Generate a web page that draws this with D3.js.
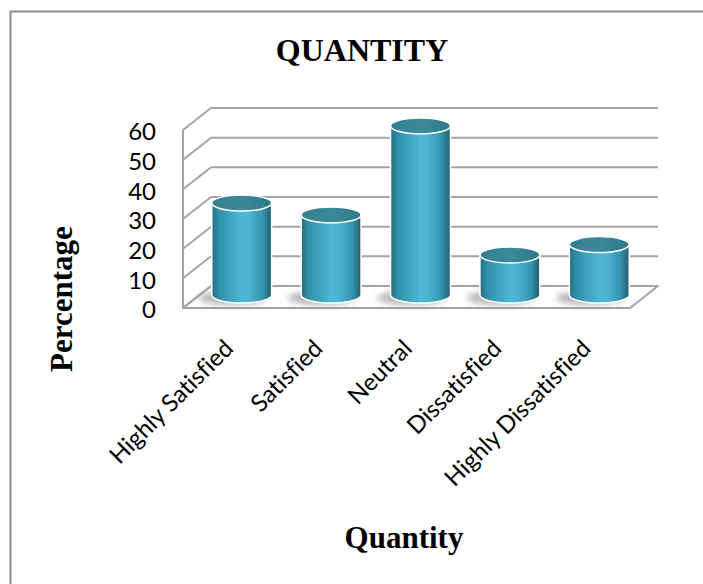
<!DOCTYPE html>
<html>
<head>
<meta charset="utf-8">
<script src="https://cdn.jsdelivr.net/npm/d3@7"></script>
<style>
html,body{margin:0;padding:0;background:#fff;}
svg{display:block;}
text{font-variant-ligatures:none;}
</style>
</head>
<body>
<svg id="chart" width="703" height="584"></svg>
<script>
const categories = ["Highly Satisfied","Satisfied","Neutral","Dissatisfied","Highly Dissatisfied"];
const values = [31, 27, 57, 13.5, 17];
const yTicks = [0,10,20,30,40,50,60];
const title = "QUANTITY";
const xTitle = "Quantity";
const yTitle = "Percentage";

const svg = d3.select("#chart");
const defs = svg.append("defs");

// frame
svg.append("rect").attr("x",10.5).attr("y",11.5).attr("width",900).attr("height",900)
  .attr("fill","none").attr("stroke","#8c8c8c").attr("stroke-width",2);

const front = {left:183, right:630, bottom:308, top:130};
const DX = 28, DY = -22;       // depth offset to back wall
const CDX = 14, CDY = -13;     // cylinder position inside depth

const x = d3.scaleBand().domain(categories).range([front.left, front.right]);
const y = d3.scaleLinear().domain([0,60]).range([front.bottom, front.top]);

const grid = svg.append("g");
const gridColor = "#a3a3a3";
const floorPts = [[front.left,y(0)],[front.right,y(0)],[front.right+DX,y(0)+DY],[front.left+DX,y(0)+DY]];
grid.append("polygon").attr("points",floorPts.map(p=>p.join(",")).join(" "))
  .attr("fill","#fff").attr("stroke",gridColor).attr("stroke-width",2).attr("stroke-linejoin","round");
grid.selectAll("line.back").data(yTicks).enter().append("line")
  .attr("x1",front.left+DX).attr("x2",front.right+DX)
  .attr("y1",d=>y(d)+DY).attr("y2",d=>y(d)+DY)
  .attr("stroke",gridColor).attr("stroke-width",2);
grid.selectAll("line.side").data(yTicks).enter().append("line")
  .attr("x1",front.left).attr("x2",front.left+DX)
  .attr("y1",d=>y(d)).attr("y2",d=>y(d)+DY)
  .attr("stroke",gridColor).attr("stroke-width",2);
grid.append("line").attr("x1",front.left).attr("x2",front.left)
  .attr("y1",y(60)).attr("y2",y(0)).attr("stroke",gridColor).attr("stroke-width",2);

const bodyGrad = defs.append("linearGradient").attr("id","bodyGrad").attr("x1","0%").attr("x2","100%").attr("y1","0%").attr("y2","0%");
[[0,"#256d7f"],[0.12,"#3190a8"],[0.5,"#4cb8d6"],[0.62,"#4ab5d3"],[0.85,"#3594ad"],[1,"#1f5d6e"]]
  .forEach(s=>bodyGrad.append("stop").attr("offset",s[0]).attr("stop-color",s[1]));
const topGrad = defs.append("linearGradient").attr("id","topGrad").attr("x1","0%").attr("x2","100%").attr("y1","0%").attr("y2","0%");
[[0,"#337f8f"],[0.5,"#3a899b"],[1,"#2e798a"]]
  .forEach(s=>topGrad.append("stop").attr("offset",s[0]).attr("stop-color",s[1]));
const blur = defs.append("filter").attr("id","blur").attr("x","-50%").attr("y","-50%").attr("width","200%").attr("height","200%");
blur.append("feGaussianBlur").attr("stdDeviation",3);

const rx = x.bandwidth()*0.335, ry = 8;
const bars = svg.append("g").selectAll("g").data(categories.map((c,i)=>({c,v:values[i]}))).enter().append("g");
bars.each(function(d){
  const g = d3.select(this);
  const cx = x(d.c) + x.bandwidth()/2 + CDX;
  const yb = y(0) + CDY;
  const yt = y(d.v) + CDY;
  g.append("ellipse").attr("cx",cx-9).attr("cy",yb+3).attr("rx",rx+4).attr("ry",ry-1)
    .attr("fill","#7a7a7a").attr("opacity",0.55).attr("filter","url(#blur)");
  g.append("path")
    .attr("d",`M${cx-rx},${yt} L${cx-rx},${yb} A${rx},${ry} 0 0 0 ${cx+rx},${yb} L${cx+rx},${yt} Z`)
    .attr("fill","url(#bodyGrad)").attr("stroke","#ffffff").attr("stroke-width",1.5);
  g.append("ellipse").attr("cx",cx).attr("cy",yt).attr("rx",rx).attr("ry",ry)
    .attr("fill","url(#topGrad)").attr("stroke","#ffffff").attr("stroke-width",1.5);
});

const yAxis = d3.axisLeft(y).tickValues(yTicks).tickSize(0).tickPadding(27);
const ya = svg.append("g").attr("transform",`translate(${front.left},2)`).call(yAxis);
ya.select(".domain").remove();
ya.selectAll("text").attr("font-family","Lato, 'Open Sans', sans-serif").attr("font-size",24).attr("fill","#000");

svg.append("g").selectAll("text").data(categories).enter().append("text")
  .attr("transform",d=>`translate(${x(d)+x.bandwidth()/2+7},350) rotate(-45)`)
  .attr("text-anchor","end")
  .attr("font-family","Lato, 'Open Sans', sans-serif").attr("font-size",24).attr("fill","#000")
  .text(d=>d);

svg.append("text").attr("x",362).attr("y",61).attr("text-anchor","middle")
  .attr("font-family","'Liberation Serif', 'Times New Roman', serif").attr("font-weight","bold").attr("font-size",32)
  .text(title);
svg.append("text").attr("x",404).attr("y",548).attr("text-anchor","middle")
  .attr("font-family","'Liberation Serif', 'Times New Roman', serif").attr("font-weight","bold").attr("font-size",31)
  .text(xTitle);
svg.append("text").attr("transform","translate(72,299) rotate(-90)").attr("text-anchor","middle")
  .attr("font-family","'Liberation Serif', 'Times New Roman', serif").attr("font-weight","bold").attr("font-size",31)
  .text(yTitle);
</script>
</body>
</html>
